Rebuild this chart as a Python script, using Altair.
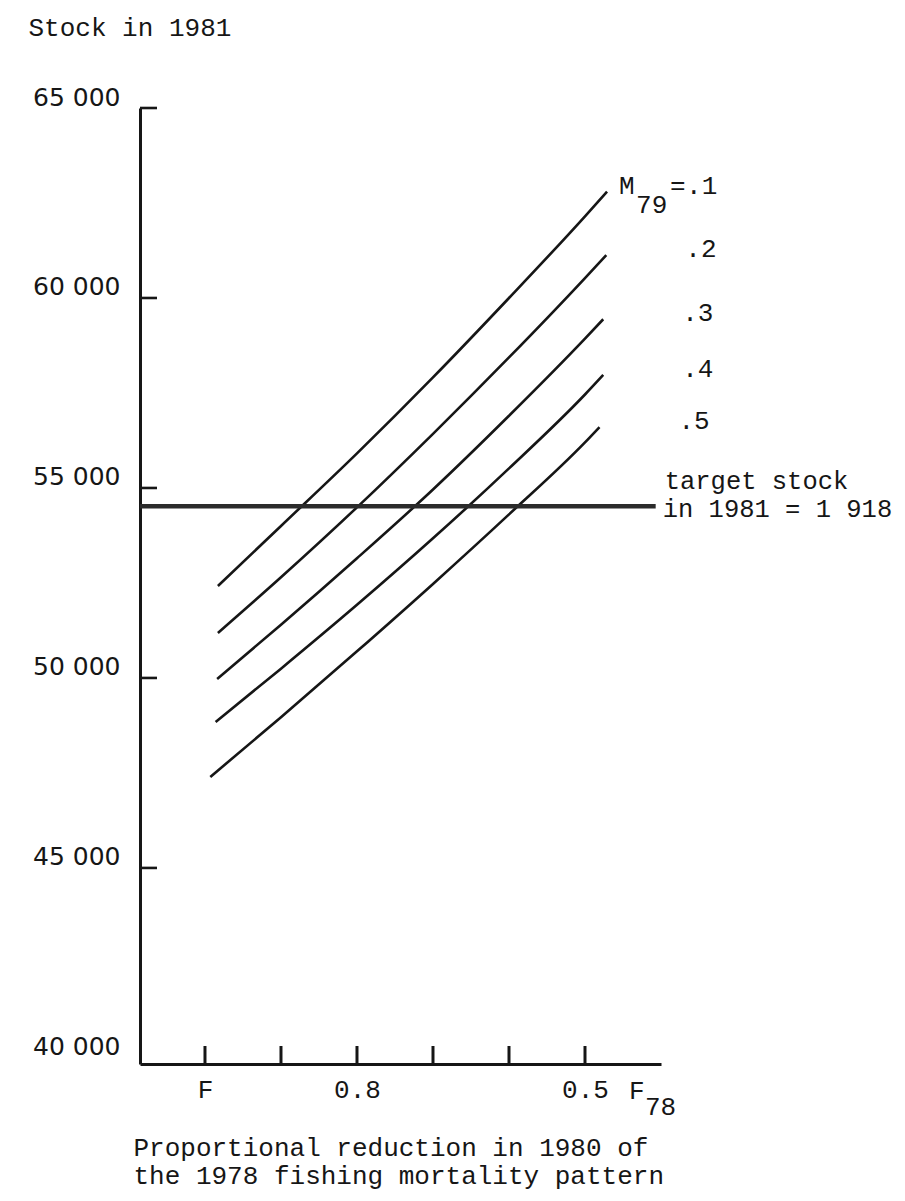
import altair as alt
import pandas as pd

# ---- data ----
m_values = [0.1, 0.2, 0.3, 0.4, 0.5]
end_labels = [".1", ".2", ".3", ".4", ".5"]

x_m1 = [0.983, 0.9, 0.8, 0.7, 0.6, 0.5, 0.471]
y_m1 = [52420, 54000, 55910, 57910, 60000, 62150, 62800]
x_m2 = [0.983, 0.9, 0.8, 0.7, 0.6, 0.5, 0.472]
y_m2 = [51185, 52650, 54490, 56425, 58435, 60525, 61130]
x_m3 = [0.984, 0.9, 0.8, 0.7, 0.6, 0.5, 0.476]
y_m3 = [49975, 51400, 53150, 54960, 56900, 58930, 59440]
x_m4 = [0.986, 0.9, 0.8, 0.7, 0.6, 0.5, 0.476]
y_m4 = [48840, 50245, 51925, 53675, 55515, 57460, 57975]
x_m5 = [0.993, 0.9, 0.8, 0.7, 0.6, 0.5, 0.481]
y_m5 = [47395, 48965, 50700, 52475, 54305, 56200, 56600]

target_stock = 54520
target_x_end = 0.407
target_lines = ["target stock", "in 1981 = 1 918"]

x_domain = [1.0855, 0.4]
y_domain = [39840, 65000]
y_tick_values = [40000, 45000, 50000, 55000, 60000, 65000]
y_tick_marks = [45000, 50000, 55000, 60000, 65000]
x_tick_values = [1.0, 0.9, 0.8, 0.7, 0.6, 0.5]
x_label_values = [1.0, 0.8, 0.5]

y_title = "Stock in 1981"
x_title = ["Proportional reduction in 1980 of", "the 1978 fishing mortality pattern"]

# ---- tables ----
xs = [x_m1, x_m2, x_m3, x_m4, x_m5]
ys = [y_m1, y_m2, y_m3, y_m4, y_m5]
rows = []
for m, xv, yv in zip(m_values, xs, ys):
    for a, b in zip(xv, yv):
        rows.append({"m": m, "x": a, "y": b})
lines_df = pd.DataFrame(rows)

ends_df = pd.DataFrame({
    "m": m_values,
    "x": [v[-1] for v in xs],
    "y": [v[-1] for v in ys],
    "lab": end_labels,
})
first_end = ends_df[ends_df["m"] == 0.1]

target_df = pd.DataFrame({"y": [target_stock], "x": [target_x_end]})
ytick_df = pd.DataFrame({"y": y_tick_marks})
xtick_df = pd.DataFrame({"x": x_tick_values})
suffix_df = pd.DataFrame({"x": [0.5]})

# ---- scales & axes ----
xscale = alt.Scale(domain=x_domain, nice=False, zero=False)
yscale = alt.Scale(domain=y_domain, nice=False, zero=False)

MONO = "Liberation Mono"
INK = "#161616"
FS = 26

x_axis = alt.Axis(
    values=x_label_values,
    labelExpr="datum.value == 1 ? 'F' : format(datum.value, '.1f')",
    ticks=False, tickSize=0, grid=False,
    domain=True, domainWidth=3, domainColor=INK,
    labelFont=MONO, labelFontSize=FS, labelColor=INK,
    labelPadding=33, labelBaseline="alphabetic", labelFlush=False,
    labelOverlap=False,
    title=x_title, titleFont=MONO, titleFontSize=FS, titleFontWeight="normal",
    titleColor=INK, titleAlign="left", titleBaseline="alphabetic",
    titleX=-7, titleY=91, titleLineHeight=28,
)
y_axis = alt.Axis(
    values=y_tick_values,
    labelExpr="replace(format(datum.value, ','), ',', ' ')",
    ticks=False, tickSize=0, grid=False,
    domain=True, domainWidth=3, domainColor=INK,
    labelFont="DejaVu Sans", labelFontSize=25, labelFontWeight="normal",
    labelColor=INK, labelPadding=20, labelBaseline="alphabetic",
    labelOffset=-3, labelFlush=False, labelOverlap=False,
    title=y_title, titleFont=MONO, titleFontSize=FS, titleFontWeight="normal",
    titleColor=INK, titleAngle=0, titleAlign="left", titleBaseline="alphabetic",
    titleX=-112, titleY=-73,
)

X = lambda f="x:Q": alt.X(f, scale=xscale, axis=x_axis)
Y = lambda f="y:Q": alt.Y(f, scale=yscale, axis=y_axis)

lines = alt.Chart(lines_df).mark_line(
    interpolate="monotone", strokeWidth=2.6, color=INK
).encode(
    x=X(), y=Y(),
    detail="m:N",
    order=alt.Order("x:Q", sort="descending"),
)

target = alt.Chart(target_df).mark_rule(strokeWidth=4.5, color="#2b2b2b").encode(
    x=X(), x2=alt.datum(x_domain[0]), y=Y(),
)

ytk = alt.Chart(ytick_df).mark_rule(strokeWidth=2.6, color=INK).encode(
    y=Y(), x=alt.value(0), x2=alt.value(17),
)
xtk = alt.Chart(xtick_df).mark_rule(strokeWidth=3, color=INK).encode(
    x=X(), y=alt.value(956), y2=alt.value(938),
)

txt = dict(font=MONO, fontSize=FS, color=INK, align="left", baseline="alphabetic")

end_txt = alt.Chart(ends_df).mark_text(dx=79, dy=2, **txt).encode(
    x=X(), y=Y(), text="lab:N",
)
m_txt = alt.Chart(first_end).mark_text(dx=12, dy=2, **txt).encode(
    x=X(), y=Y(), text=alt.value("M"),
)
sub_txt = alt.Chart(first_end).mark_text(dx=29, dy=21, **txt).encode(
    x=X(), y=Y(), text=alt.value("79"),
)
eq_txt = alt.Chart(first_end).mark_text(dx=63, dy=2, **txt).encode(
    x=X(), y=Y(), text=alt.value("="),
)

txt_t = dict(txt, fontSize=25.5)
tgt1 = alt.Chart(target_df).mark_text(dx=9, dy=-17, **txt_t).encode(
    x=X(), y=Y(), text=alt.value(target_lines[0]),
)
tgt2 = alt.Chart(target_df).mark_text(dx=7, dy=11, **txt_t).encode(
    x=X(), y=Y(), text=alt.value(target_lines[1]),
)

f_txt = alt.Chart(suffix_df).mark_text(dx=44, **txt).encode(
    x=X(), y=alt.value(956 + 35), text=alt.value("F"),
)
f_sub = alt.Chart(suffix_df).mark_text(dx=60, **txt).encode(
    x=X(), y=alt.value(956 + 51), text=alt.value("78"),
)

chart = alt.layer(
    lines, target, ytk, xtk, end_txt, m_txt, sub_txt, eq_txt, tgt1, tgt2, f_txt, f_sub
).properties(
    width=521, height=956,
    autosize=alt.AutoSizeParams(type="none"),
    padding={"left": 132, "top": 100, "right": 236, "bottom": 129},
    background="white",
).configure_view(stroke=None)

chart.save("out.html", embed_options={"renderer": "svg", "actions": False})
